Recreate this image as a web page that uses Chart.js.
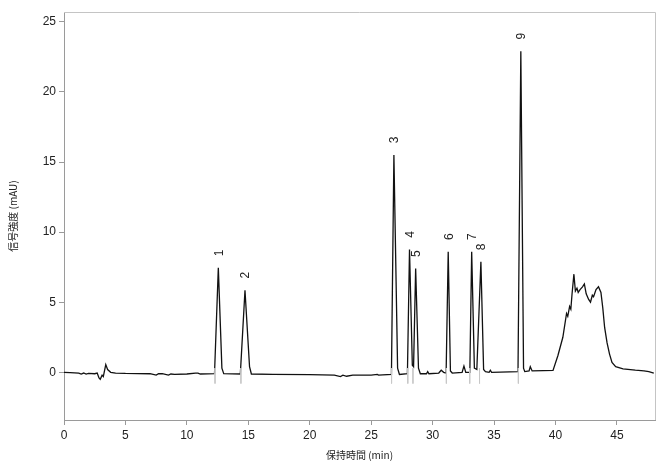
<!DOCTYPE html>
<html>
<head>
<meta charset="utf-8">
<script src="https://cdn.jsdelivr.net/npm/chart.js@4/dist/chart.umd.min.js"></script>
<style>
  html, body { margin: 0; padding: 0; background: #fff; }
  canvas { display: block; }
</style>
</head>
<body>
<canvas id="chart" width="666" height="465"></canvas>
<script>
// chromatogram trace (min, mAU)
const traceTimes = [
  0, 0.5, 1.2, 1.4, 1.6, 1.8, 2.0, 2.5, 2.7, 2.85, 2.95, 3.1, 3.2, 3.4, 3.55, 3.8, 4.2,
  5, 7, 7.5, 7.7, 8, 8.5, 8.7, 9, 10, 10.7, 10.9, 11.1,
  12.25, 12.56, 12.85, 13.0,
  14.35, 14.73, 15.1, 15.25,
  17, 20, 22, 22.5, 22.7, 23, 23.5, 25, 25.5, 25.6,
  26.65, 26.85, 27.15, 27.3,
  27.95, 28.12, 28.35, 28.45, 28.62, 28.85, 29.0,
  29.5, 29.6, 29.7, 30.5, 30.7, 30.9,
  31.1, 31.27, 31.45, 31.6,
  32.4, 32.55, 32.7,
  33.03, 33.18, 33.4, 33.6, 33.93, 34.15, 34.3,
  34.6, 34.7, 34.8,
  36.95, 37.18, 37.4, 37.5,
  37.85, 37.95, 38.1, 39.0, 39.8,
  40.2, 40.6, 40.9, 41.0, 41.15, 41.25, 41.35, 41.5, 41.62, 41.75, 41.85, 42.0, 42.2, 42.35,
  42.5, 42.7, 42.85, 43.0, 43.1, 43.3, 43.5, 43.7, 43.85, 44.0, 44.2, 44.4, 44.6, 44.9,
  45.5, 46.5, 47.2, 47.6, 48.0
]
const traceSignal = [
  0, -0.02, -0.05, -0.12, -0.05, -0.13, -0.08, -0.1, -0.05, -0.4, -0.5, -0.2, -0.3, 0.55, 0.2, 0.0, -0.05,
  -0.08, -0.1, -0.2, -0.1, -0.1, -0.2, -0.12, -0.15, -0.12, -0.05, -0.05, -0.12,
  -0.1, 7.45, 0.3, -0.1,
  -0.12, 5.86, 0.4, -0.12,
  -0.15, -0.17, -0.2, -0.3, -0.2, -0.28, -0.2, -0.2, -0.15, -0.2,
  -0.15, 15.5, 0.3, -0.15,
  -0.1, 8.76, 0.5, 0.4, 7.4, 0.3, -0.1,
  -0.1, 0.05, -0.1, -0.05, 0.15, 0.0,
  -0.05, 8.6, 0.1, -0.05,
  0.0, 0.45, 0.0,
  0.0, 8.6, 0.3, 0.2, 7.88, 0.2, 0.05,
  0.0, 0.15, 0.0,
  0.05, 22.9, 0.3, 0.05,
  0.1, 0.4, 0.1, 0.12, 0.14,
  1.2, 2.5, 4.2, 4.0, 4.7, 4.5, 5.6, 7.0, 5.8, 6.0, 5.7, 5.9, 6.1, 6.3,
  5.6, 5.2, 5.0, 5.5, 5.4, 5.9, 6.1, 5.7, 4.6, 3.2, 2.1, 1.3, 0.7, 0.4,
  0.25, 0.15, 0.1, 0.05, -0.05
]

const peakNames = ['1', '2', '3', '4', '5', '6', '7', '8', '9']
const peakTimes = [12.56, 14.73, 26.85, 28.12, 28.62, 31.27, 33.18, 33.93, 37.18]
const peakHeights = [7.45, 5.86, 15.5, 8.76, 7.4, 8.6, 8.6, 7.88, 22.9]

// integration start markers (grey ticks below the baseline)
const markerTimes = [12.29, 14.4, 26.66, 27.98, 28.4, 31.12, 33.02, 33.82, 36.98]
const markerTop = 0.3
const markerBottom = -0.8

const xTicks = [0, 5, 10, 15, 20, 25, 30, 35, 40, 45]
const yTicks = [0, 5, 10, 15, 20, 25]

const tracePoints = traceTimes.map((t, i) => ({x: t, y: traceSignal[i]}))
const markerPoints = []
markerTimes.forEach(t => {
  markerPoints.push({x: t, y: markerTop}, {x: t, y: markerBottom}, {x: t, y: null})
})

const axisColor = '#9a9a9a'
const tickFont = {family: '"Liberation Sans", Arial, sans-serif', size: 12}
const titleFont = {family: '"Noto Sans CJK JP", sans-serif', size: 10}

const framePlugin = {
  id: 'frame',
  beforeDatasetsDraw(chart) {
    const {ctx, chartArea} = chart
    ctx.save()
    ctx.strokeStyle = '#c4c4c4'
    ctx.lineWidth = 1
    ctx.beginPath()
    ctx.moveTo(chartArea.left, chartArea.top + 0.5)
    ctx.lineTo(chartArea.right + 0.5, chartArea.top + 0.5)
    ctx.lineTo(chartArea.right + 0.5, chartArea.bottom)
    ctx.stroke()
    ctx.restore()
  }
}

const peakLabelPlugin = {
  id: 'peakLabels',
  afterDatasetsDraw(chart) {
    const {ctx, scales} = chart
    ctx.save()
    ctx.fillStyle = '#222'
    ctx.font = '12px "Liberation Sans", Arial, sans-serif'
    ctx.textAlign = 'center'
    ctx.textBaseline = 'middle'
    peakNames.forEach((name, i) => {
      const px = scales.x.getPixelForValue(peakTimes[i])
      const py = scales.y.getPixelForValue(peakHeights[i])
      ctx.save()
      ctx.translate(px + 1, py - 15)
      ctx.rotate(-Math.PI / 2)
      ctx.fillText(name, 0, 0)
      ctx.restore()
    })
    ctx.restore()
  }
}

new Chart(document.getElementById('chart'), {
  type: 'scatter',
  data: {
    datasets: [
      {
        data: markerPoints,
        showLine: true,
        spanGaps: false,
        borderColor: '#c8c8c8',
        borderWidth: 1,
        pointRadius: 0
      },
      {
        data: tracePoints,
        showLine: true,
        borderColor: '#111',
        borderWidth: 1.3,
        pointRadius: 0,
        tension: 0
      }
    ]
  },
  options: {
    responsive: false,
    animation: false,
    devicePixelRatio: 1,
    layout: {padding: {left: 0, top: 12, right: 11, bottom: 0}},
    plugins: {
      legend: {display: false},
      tooltip: {enabled: false}
    },
    scales: {
      x: {
        type: 'linear',
        min: 0,
        max: 48.1,
        afterBuildTicks: scale => { scale.ticks = xTicks.map(v => ({value: v})) },
        afterFit: scale => { scale.height = 45 },
        grid: {drawOnChartArea: false, drawTicks: true, tickLength: 5, color: axisColor},
        border: {color: axisColor},
        ticks: {font: tickFont, color: '#222', padding: 3, maxRotation: 0},
        title: {display: true, text: '保持時間 (min)', font: titleFont, color: '#222', padding: {top: 2, bottom: 4}}
      },
      y: {
        type: 'linear',
        min: -3.4,
        max: 25.7,
        afterBuildTicks: scale => { scale.ticks = yTicks.map(v => ({value: v})) },
        afterFit: scale => { scale.width = 64 },
        grid: {drawOnChartArea: false, drawTicks: true, tickLength: 5, color: axisColor},
        border: {color: axisColor},
        ticks: {font: tickFont, color: '#222', padding: 3},
        title: {display: true, text: '信号強度 (mAU)', font: titleFont, color: '#222', padding: {top: 7, bottom: 4}}
      }
    }
  },
  plugins: [framePlugin, peakLabelPlugin]
})
</script>
</body>
</html>
